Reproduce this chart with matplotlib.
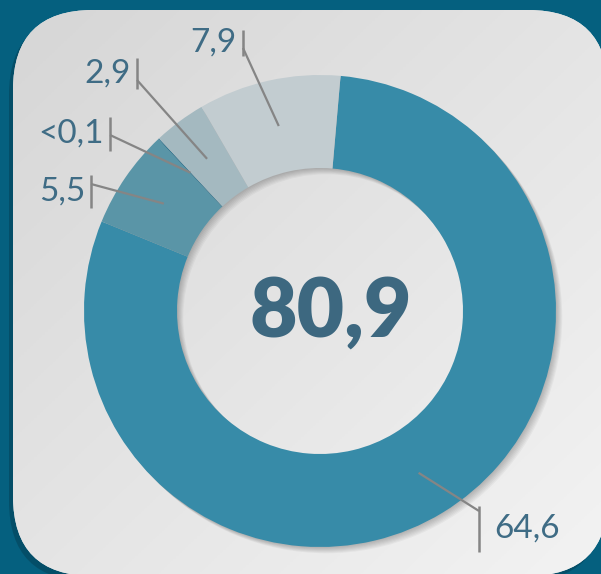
import numpy as np
import matplotlib
matplotlib.use("Agg")
import matplotlib.pyplot as plt
from matplotlib.patches import FancyBboxPatch, Wedge
from matplotlib.colors import LinearSegmentedColormap

# data
values = [64.6, 5.5, 0.05, 2.9, 7.9]
labels = ["64,6", "5,5", "<0,1", "2,9", "7,9"]
colors = ["#378ba8", "#5a95a7", "#1f6d8c", "#a4b9c0", "#c2ccd0"]
total_text = "80,9"

W, H = 601, 574
fig = plt.figure(figsize=(W / 100, H / 100), dpi=100)
fig.patch.set_facecolor("#05607f")
ax = fig.add_axes([0, 0, 1, 1])

# card with a soft gradient
cx0, cy0, cx1, cy1 = 13, -2, 608, 564
shadow = FancyBboxPatch((cx0 - 4, cy0 - 5), cx1 - cx0, cy1 - cy0,
                        boxstyle="round,pad=0,rounding_size=80",
                        fc="black", ec="none", alpha=0.18, zorder=0)
ax.add_patch(shadow)
card = FancyBboxPatch((cx0, cy0), cx1 - cx0, cy1 - cy0,
                      boxstyle="round,pad=0,rounding_size=80",
                      fc="#e2e2e2", ec="none", zorder=1)
ax.add_patch(card)
gx, gy = np.meshgrid(np.linspace(0, 1, 200), np.linspace(0, 1, 200))
grad = (gx + gy) / 2
cmap = LinearSegmentedColormap.from_list("card", ["#d6d6d6", "#f3f3f3"])
im = ax.imshow(grad, extent=(cx0, cx1, cy0, cy1), cmap=cmap,
               aspect="auto", zorder=1.5)
im.set_clip_path(card)

# donut
center = (320, 263)
R = 236
ring = 93

# drop shadow of the ring
for i in range(1, 8):
    ax.add_patch(Wedge((center[0] + i * 0.9, center[1] - i * 0.9), R, 0, 360,
                       width=ring, fc="black", ec="none", alpha=0.035, zorder=2))

wedges, _ = ax.pie(values, radius=R, center=center, startangle=85,
                   counterclock=False, colors=colors,
                   wedgeprops=dict(width=ring, linewidth=0))
for w in wedges:
    w.set_zorder(3)

# label anchors: (tick x, tick top, tick bottom, line join y) in image pixels
anchors = [
    (479, 506, 552, 511),
    (91, 175, 208, 184),
    (110, 117, 151, 135),
    (137, 58, 89, 80),
    (243, 30, 56, 48),
]
text_col = "#3f6c85"
line_col = "#858585"
mid_r = R - ring / 2
for w, lab, (tx, t0, t1, jy) in zip(wedges, labels, anchors):
    ang = np.deg2rad((w.theta1 + w.theta2) / 2)
    mx = center[0] + mid_r * np.cos(ang)
    my = center[1] + mid_r * np.sin(ang)
    ax.plot([mx, tx], [my, H - jy], color=line_col, lw=1.6, zorder=4,
            solid_capstyle="butt")
    ax.plot([tx, tx], [H - t0, H - t1], color=line_col, lw=1.8, zorder=4,
            solid_capstyle="butt")
    ty = H - (t0 + t1) / 2
    if tx > center[0]:
        ax.text(tx + 15, ty, lab, ha="left", va="center", fontsize=24,
                color=text_col, family="Lato", zorder=5)
    else:
        ax.text(tx - 6, ty, lab, ha="right", va="center", fontsize=24,
                color=text_col, family="Lato", zorder=5)

ax.text(center[0] + 11, center[1] - 2, total_text, ha="center", va="center",
        fontsize=59, fontweight="heavy", color="#3d6880", family="Lato",
        zorder=5)

ax.set_xlim(0, W)
ax.set_ylim(0, H)
ax.set_aspect("equal")
ax.axis("off")
fig.savefig("out.png", dpi=100, facecolor=fig.get_facecolor())
